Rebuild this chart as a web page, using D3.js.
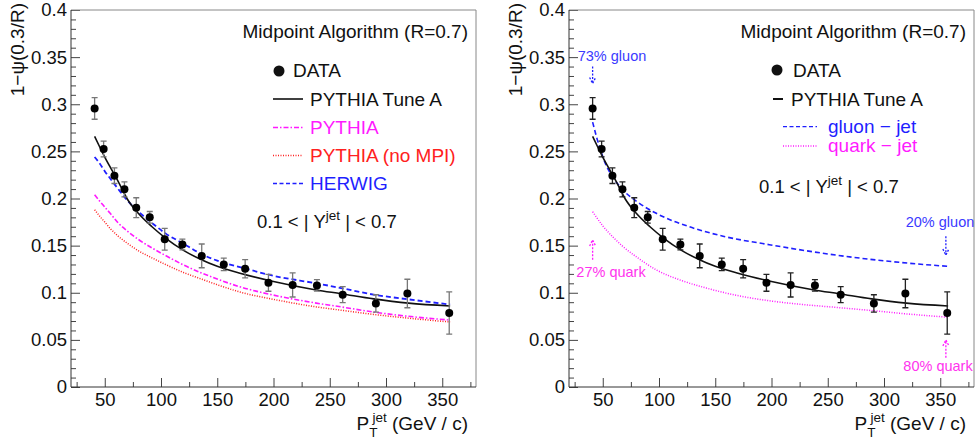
<!DOCTYPE html>
<html>
<head>
<meta charset="utf-8">
<script src="https://cdn.jsdelivr.net/npm/d3@7"></script>
<style>
  body { margin: 0; background: #fff; }
  svg { font-family: "Liberation Sans", Arial, Helvetica, sans-serif; }
</style>
</head>
<body>
<div id="chart-area"></div>
<script>
// measured data points (same in both panels)
const ptData  = [41, 49, 58.6, 67.5, 78, 90, 103.3, 119, 136.2, 155.8, 174.8, 195.5, 217, 238.6, 261.5, 291, 319, 356.2]
const psiData = [0.2956, 0.2525, 0.2242, 0.2097, 0.1903, 0.1800, 0.1567, 0.1512, 0.1391, 0.1301, 0.1255, 0.1105, 0.1083, 0.1078, 0.0980, 0.0887, 0.0992, 0.0785]
const psiErr  = [0.0115, 0.0083, 0.0083, 0.0080, 0.0105, 0.0062, 0.0115, 0.0057, 0.0126, 0.0066, 0.0097, 0.0089, 0.0128, 0.0061, 0.0085, 0.0092, 0.0151, 0.0225]

// MC predictions, left panel
const mcPt      = [41, 45, 50, 55, 62, 70, 80, 92, 104, 120, 136, 150, 171, 200, 238, 260, 289, 320, 357]
const tuneA     = [0.266, 0.256, 0.244, 0.233, 0.218, 0.1995, 0.184, 0.170, 0.158, 0.145, 0.135, 0.128, 0.1205, 0.112, 0.103, 0.099, 0.0935, 0.089, 0.086]
const herwig    = [0.244, 0.238, 0.229, 0.221, 0.210, 0.198, 0.186, 0.174, 0.163, 0.152, 0.141, 0.134, 0.127, 0.118, 0.110, 0.105, 0.098, 0.093, 0.0875]
const pythia    = [0.204, 0.198, 0.191, 0.184, 0.174, 0.1655, 0.1565, 0.1475, 0.1395, 0.1295, 0.121, 0.1145, 0.106, 0.0975, 0.089, 0.085, 0.0795, 0.075, 0.071]
const pythiaNoMPI = [0.188, 0.182, 0.175, 0.168, 0.160, 0.1525, 0.1445, 0.137, 0.130, 0.1215, 0.1145, 0.1085, 0.1005, 0.093, 0.085, 0.0815, 0.077, 0.073, 0.069]

// right panel
const gluonPt  = [41, 47, 53.5, 60, 68, 80, 98, 127, 157, 198, 257, 316, 357]
const gluonJet = [0.281, 0.255, 0.234, 0.221, 0.209, 0.197, 0.184, 0.170, 0.160, 0.151, 0.140, 0.132, 0.128]
const quarkPt  = [41, 50, 60, 68, 80, 98, 120, 142, 170, 198, 228, 257, 290, 316, 357]
const quarkJet = [0.186, 0.171, 0.158, 0.149, 0.138, 0.124, 0.113, 0.105, 0.097, 0.0915, 0.0875, 0.0845, 0.081, 0.078, 0.074]

// axes
const xMajor = [50, 100, 150, 200, 250, 300, 350]
const xMinor = [25, 75, 125, 175, 225, 275, 325, 375]
const yMajor = [0, 0.05, 0.1, 0.15, 0.2, 0.25, 0.3, 0.35, 0.4]
const yLabels = ["0", "0.05", "0.1", "0.15", "0.2", "0.25", "0.3", "0.35", "0.4"]
const yMinor = d3.range(1, 40).filter(i => i % 5 != 0).map(i => i / 100)

const BLUE = "#1f1fff", MAGENTA = "#ff1aff", RED = "#ff2020"
const NOTE_BLUE = "#3a3aff", NOTE_MAGENTA = "#ff33ee"

const FRAME = { TOP: 10, WIDTH: 405, HEIGHT: 377 }
const PANEL_LEFT = [71, 569]

const svg = d3.select("#chart-area").append("svg")
  .attr("width", 979)
  .attr("height", 440)

const x = d3.scaleLinear().domain([20, 380]).range([0, FRAME.WIDTH])
const y = d3.scaleLinear().domain([0, 0.4]).range([FRAME.HEIGHT, 0])

const line = d3.line()
  .x(d => x(d[0]))
  .y(d => y(d[1]))
  .curve(d3.curveMonotoneX)

function drawAxes(g) {
  const xAxisMajor = d3.axisBottom(x).tickValues(xMajor).tickSize(-9).tickPadding(6).tickFormat(d3.format("d"))
  const xAxisMinor = d3.axisBottom(x).tickValues(xMinor).tickSize(-5).tickFormat("")
  const yAxisMajor = d3.axisLeft(y).tickValues(yMajor).tickSize(-9).tickPadding(4)
    .tickFormat((d, i) => yLabels[i])
  const yAxisMinor = d3.axisLeft(y).tickValues(yMinor).tickSize(-5).tickFormat("")

  const axes = [
    g.append("g").attr("transform", `translate(0, ${FRAME.HEIGHT})`).call(xAxisMajor),
    g.append("g").attr("transform", `translate(0, ${FRAME.HEIGHT})`).call(xAxisMinor),
    g.append("g").call(yAxisMajor),
    g.append("g").call(yAxisMinor)
  ]
  axes.forEach(a => {
    a.select(".domain").remove()
    a.selectAll("line").attr("stroke", "#444")
    a.selectAll("text").attr("font-size", "18.5px").attr("fill", "#111")
      .attr("font-family", "Liberation Sans, Arial, sans-serif")
  })

  // frame
  g.append("path")
    .attr("d", `M0,0H${FRAME.WIDTH}V${FRAME.HEIGHT}`)
    .attr("fill", "none").attr("stroke", "#888").attr("stroke-width", 1)
  g.append("path")
    .attr("d", `M0,0V${FRAME.HEIGHT}H${FRAME.WIDTH}`)
    .attr("fill", "none").attr("stroke", "#333").attr("stroke-width", 1)
}

function drawTitles(g, yTitleX) {
  // y title
  g.append("text")
    .attr("transform", `translate(${yTitleX}, ${3 - FRAME.TOP}) rotate(-90)`)
    .attr("text-anchor", "end")
    .attr("font-size", "19px")
    .attr("fill", "#111")
    .text("1\u2212\u03c8(0.3/R)")

  // x title
  const t = g.append("text")
    .attr("font-size", "19px")
    .attr("fill", "#111")
  t.append("tspan").text("P")
  t.append("tspan").attr("font-size", "13.5px").attr("dy", 7).text("T")
  t.append("tspan").attr("font-size", "13.5px").attr("dy", -15).attr("dx", -5).text("jet")
  t.append("tspan").attr("dy", 8).text(" (GeV / c)")
  const w = t.node().getComputedTextLength()
  t.attr("x", FRAME.WIDTH - 3 - w).attr("y", 420)

  g.append("text")
    .attr("x", FRAME.WIDTH - 8)
    .attr("y", 28)
    .attr("text-anchor", "end")
    .attr("font-size", "19px")
    .attr("fill", "#111")
    .text("Midpoint Algorithm (R=0.7)")
}

function yRangeLabel(g, lx, ly) {
  const t = g.append("text")
    .attr("x", lx).attr("y", ly)
    .attr("font-size", "18.5px")
    .attr("fill", "#111")
  t.append("tspan").text("0.1 < | Y")
  t.append("tspan").attr("font-size", "13.5px").attr("dy", -8).text("jet")
  t.append("tspan").attr("dy", 8).text(" | < 0.7")
}

function drawData(g, errColor) {
  const pts = ptData.map((p, i) => ({ pt: p, v: psiData[i], e: psiErr[i] }))
  const bars = g.append("g").attr("stroke", errColor).attr("stroke-width", 1.3)
  bars.selectAll(".err").data(pts).enter().append("path")
    .attr("fill", "none")
    .attr("d", d => {
      const cx = x(d.pt), y1 = y(d.v + d.e), y2 = y(d.v - d.e)
      return `M${cx},${y1}V${y2}M${cx - 3},${y1}H${cx + 3}M${cx - 3},${y2}H${cx + 3}`
    })
  g.selectAll(".dot").data(pts).enter().append("circle")
    .attr("cx", d => x(d.pt))
    .attr("cy", d => y(d.v))
    .attr("r", 4)
    .attr("fill", "#000")
}

function drawCurve(g, xs, ys, color, dash, width) {
  g.append("path")
    .datum(xs.map((p, i) => [p, ys[i]]))
    .attr("d", line)
    .attr("fill", "none")
    .attr("stroke", color)
    .attr("stroke-width", width)
    .attr("stroke-dasharray", dash)
}

function legendLine(g, x1, x2, ly, color, dash, width) {
  g.append("line")
    .attr("x1", x1).attr("x2", x2).attr("y1", ly).attr("y2", ly)
    .attr("stroke", color).attr("stroke-width", width).attr("stroke-dasharray", dash)
}

function legendText(g, lx, ly, color, label) {
  g.append("text").attr("x", lx).attr("y", ly)
    .attr("font-size", "19px").attr("fill", color).text(label)
}

function arrow(g, ax, yFrom, yTo, color) {
  const px = x(ax), p1 = y(yFrom), p2 = y(yTo)
  const dir = p2 > p1 ? -1 : 1
  g.append("path")
    .attr("d", `M${px},${p1}V${p2}M${px - 3},${p2 + dir * 6}L${px},${p2}L${px + 3},${p2 + dir * 6}`)
    .attr("fill", "none")
    .attr("stroke", color)
    .attr("stroke-width", 1.3)
    .attr("stroke-dasharray", "2,1.5")
}

function note(g, nx, ny, color, label) {
  g.append("text").attr("x", nx).attr("y", ny)
    .attr("text-anchor", "middle")
    .attr("font-size", "14.5px").attr("fill", color).text(label)
}

// ---------- left panel
const gl = svg.append("g").attr("transform", `translate(${PANEL_LEFT[0]}, ${FRAME.TOP})`)
drawAxes(gl)
drawTitles(gl, -47)

drawCurve(gl, mcPt, pythiaNoMPI, RED, "1,1.5", 1.5)
drawCurve(gl, mcPt, pythia, MAGENTA, "5,2,1.5,2", 1.6)
drawCurve(gl, mcPt, herwig, BLUE, "5,3", 1.8)
drawCurve(gl, mcPt, tuneA, "#111", null, 1.6)
drawData(gl, "#777")

gl.append("circle").attr("cx", 208).attr("cy", 61).attr("r", 5.5).attr("fill", "#111")
legendText(gl, 222, 67, "#111", "DATA")
legendLine(gl, 202, 232, 89, "#111", null, 1.6)
legendText(gl, 239, 95.5, "#111", "PYTHIA Tune A")
legendLine(gl, 202, 232, 117.5, MAGENTA, "5,2,1.5,2", 1.3)
legendText(gl, 239, 124, MAGENTA, "PYTHIA")
legendLine(gl, 202, 232, 145.5, RED, "1,1.5", 1.3)
legendText(gl, 239, 152, RED, "PYTHIA (no MPI)")
legendLine(gl, 202, 232, 173.5, BLUE, "4,2.5", 1.3)
legendText(gl, 239, 180, BLUE, "HERWIG")
yRangeLabel(gl, 186, 218)

// ---------- right panel
const gr = svg.append("g").attr("transform", `translate(${PANEL_LEFT[1]}, ${FRAME.TOP})`)
drawAxes(gr)
drawTitles(gr, -47)

drawCurve(gr, quarkPt, quarkJet, MAGENTA, "1,1.5", 1.5)
drawCurve(gr, gluonPt, gluonJet, BLUE, "5,3", 1.6)
drawCurve(gr, mcPt, tuneA, "#111", null, 1.6)
drawData(gr, "#222")

gr.append("circle").attr("cx", 208).attr("cy", 60).attr("r", 5.5).attr("fill", "#111")
legendText(gr, 224, 67, "#111", "DATA")
legendLine(gr, 204, 214, 89, "#111", null, 2)
legendText(gr, 222, 95.5, "#111", "PYTHIA Tune A")
legendLine(gr, 214, 248, 116.7, BLUE, "4,2.5", 1.3)
legendText(gr, 259, 122.5, BLUE, "gluon \u2212 jet")
legendLine(gr, 214, 248, 136, MAGENTA, "1,1.5", 1.3)
legendText(gr, 259, 141.5, MAGENTA, "quark \u2212 jet")
yRangeLabel(gr, 190, 182.5)

arrow(gr, 41, 0.340, 0.322, BLUE)
note(gr, 43, 51, NOTE_BLUE, "73% gluon")
arrow(gr, 41, 0.135, 0.156, MAGENTA)
note(gr, 42, 267, NOTE_MAGENTA, "27% quark")
arrow(gr, 355, 0.160, 0.140, BLUE)
note(gr, 371, 217, NOTE_BLUE, "20% gluon")
arrow(gr, 355, 0.031, 0.050, MAGENTA)
note(gr, 369, 361, NOTE_MAGENTA, "80% quark")
</script>
</body>
</html>
